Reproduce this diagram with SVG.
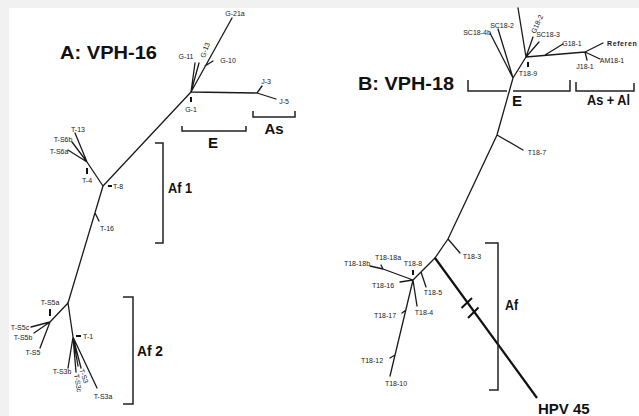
<svg xmlns="http://www.w3.org/2000/svg" width="639" height="416" viewBox="0 0 639 416">
<style>
.br{stroke:#1a1a1a;stroke-width:1.3;fill:none;stroke-linecap:round}
.th{stroke:#111;stroke-width:2.2;fill:none}
.mk{stroke:#111;stroke-width:2;fill:none}
.bk{stroke:#222;stroke-width:1.5;fill:none}
.lb{font-family:"Liberation Sans",Arial,sans-serif;font-size:7px;fill:#1a1a1a;text-anchor:middle}
.ls{font-family:"Liberation Sans",Arial,sans-serif;font-size:7px;fill:#1a1a1a}
.bl{font-family:"Liberation Sans",Arial,sans-serif;font-weight:bold;font-size:15px;fill:#111}
.ti{font-family:"Liberation Sans",Arial,sans-serif;font-weight:bold;font-size:19px;fill:#111}
</style>
<rect width="639" height="416" fill="#f1f1f1"/>
<rect x="9" y="8" width="630" height="408" fill="#ffffff"/>

<g id="titles">
<text class="ti" x="60" y="59" textLength="97" lengthAdjust="spacingAndGlyphs">A: VPH-16</text>
<text class="ti" x="358" y="90" textLength="96" lengthAdjust="spacingAndGlyphs">B: VPH-18</text>
</g>

<g id="connectors">
<!-- Tree A -->
<path class="br" d="M191,92 L232,18 M191,92 L195,63 M191,92 L199,63 M205,66 L213,61 M191,92 L257,93 M257,93 L262,86 M257,93 L276,99"/>
<path class="br" d="M191,92 L103,186 M103,186 L87,162 M87,162 L75,133 M87,162 L72,142 M87,162 L68,150 M103,186 L68,303 M95,213 L99,221"/>
<path class="br" d="M68,303 L50,322 M50,322 L31,327 M50,322 L34,333 M50,322 L40,348 M68,303 L73,337 M73,337 L68,368 M73,337 L76,372 M73,337 L78,366 M73,337 L81,368 M73,337 L97,388"/>
<path class="mk" d="M191,97 L191,102 M87,168 L87,174 M50,309 L50,316 M108,186 L112,186 M76,336 L81,336"/>
<!-- Tree B -->
<path class="br" d="M518,8 L526,57 M526,57 L533,37 M526,57 L539,42 M526,57 L585,52 M545,55 L563,44 M585,52 L603,43 M585,52 L600,59 M585,52 L587,60"/>
<path class="br" d="M526,57 L513,78 M513,78 L490,33 M513,78 L498,29 M513,78 L497,135 L448,239 M497,135 L523,150 M448,239 L460,253 M448,239 L435,258"/>
<path class="br" d="M435,258 L413,280 M421,272 L426,287 M413,280 L417,306 M413,280 L400,282 M413,280 L383,269 M383,269 L370,266 M383,269 L381,265 M413,280 L390,376 M406,310 L402,313 M395,355 L390,358"/>
<path class="th" d="M435,258 L537,398"/>
<path class="mk" d="M461.5,308 L472,298 M468,318 L478.5,307.5 M528,62 L528,67 M413,270 L413,275"/>
</g>

<g id="brackets">
<path class="bk" d="M182,126 L182,131 L246,131 L246,126"/>
<path class="bk" d="M253,111 L253,117 L295,117 L295,111"/>
<path class="bk" d="M155,143 L163,143 L163,243 L155,243"/>
<path class="bk" d="M123,297 L133,297 L133,404 L123,404"/>
<path class="bk" d="M468,80 L468,91 L507,91 M513,91 L570,91 L570,80"/>
<path class="bk" d="M576,82 L576,91 L634,91 L634,83"/>
<path class="bk" d="M485,243 L498,243 L498,390 L489,390"/>
</g>

<g id="clade-labels">
<g id="cl-E-A"><text class="bl" x="213" y="148" text-anchor="middle">E</text></g>
<g id="cl-As"><text class="bl" x="274" y="134" text-anchor="middle">As</text></g>
<g id="cl-Af1"><text class="bl" x="168" y="193" textLength="24" lengthAdjust="spacingAndGlyphs">Af 1</text></g>
<g id="cl-Af2"><text class="bl" x="137" y="356" textLength="26" lengthAdjust="spacingAndGlyphs">Af 2</text></g>
<g id="cl-E-B"><text class="bl" x="517" y="106" text-anchor="middle">E</text></g>
<g id="cl-AsAl"><text class="bl" x="587" y="105" textLength="43" lengthAdjust="spacingAndGlyphs">As + Al</text></g>
<g id="cl-Af"><text class="bl" x="505" y="310" textLength="13" lengthAdjust="spacingAndGlyphs">Af</text></g>
</g>

<g id="tree-a-labels">
<g id="G-21a"><text class="lb" x="235" y="16">G-21a</text></g>
<g id="G-11"><text class="lb" x="186" y="59">G-11</text></g>
<g id="G-13"><text class="lb" transform="translate(205,50) rotate(-70)" y="2.5">G-13</text></g>
<g id="G-10"><text class="lb" x="228" y="63">G-10</text></g>
<g id="J-3"><text class="lb" x="266" y="84">J-3</text></g>
<g id="J-5"><text class="lb" x="284" y="104">J-5</text></g>
<g id="G-1"><text class="lb" x="191" y="112">G-1</text></g>
<g id="T-13"><text class="lb" x="78" y="132">T-13</text></g>
<g id="T-S6b"><text class="lb" x="63" y="142">T-S6b</text></g>
<g id="T-S6a"><text class="lb" x="59" y="154">T-S6a</text></g>
<g id="T-4"><text class="lb" x="87" y="183">T-4</text></g>
<g id="T-8"><text class="ls" x="113" y="188.5">T-8</text></g>
<g id="T-16"><text class="lb" x="107" y="231">T-16</text></g>
<g id="T-S5a"><text class="lb" x="50" y="305">T-S5a</text></g>
<g id="T-S5c"><text class="lb" x="20" y="330">T-S5c</text></g>
<g id="T-S5b"><text class="lb" x="23" y="340">T-S5b</text></g>
<g id="T-S5"><text class="lb" x="33" y="355">T-S5</text></g>
<g id="T-1"><text class="ls" x="83" y="338.5">T-1</text></g>
<g id="T-S3b"><text class="lb" x="62" y="374">T-S3b</text></g>
<g id="T-S3c"><text class="lb" transform="translate(78,383) rotate(80)" y="2.5">T-S3c</text></g>
<g id="T-S3"><text class="lb" transform="translate(84,376) rotate(70)" y="2.5">T-S3</text></g>
<g id="T-S3a"><text class="lb" x="103" y="399">T-S3a</text></g>
</g>

<g id="tree-b-labels">
<g id="G18-2"><text class="lb" transform="translate(537,24) rotate(-65)" y="2.5">G18-2</text></g>
<g id="SC18-3"><text class="lb" x="548" y="37">SC18-3</text></g>
<g id="G18-1"><text class="lb" x="572" y="46">G18-1</text></g>
<g id="Reference"><text class="ls" x="607" y="45.5" font-weight="bold" letter-spacing="0.6">Referen</text></g>
<g id="AM18-1"><text class="lb" x="612" y="63">AM18-1</text></g>
<g id="J18-1"><text class="lb" x="585" y="69">J18-1</text></g>
<g id="T18-9"><text class="lb" x="528" y="76">T18-9</text></g>
<g id="SC18-4b"><text class="lb" x="477" y="35">SC18-4b</text></g>
<g id="SC18-2"><text class="lb" x="502" y="28">SC18-2</text></g>
<g id="T18-7"><text class="lb" x="537" y="155">T18-7</text></g>
<g id="T18-3"><text class="lb" x="472" y="259">T18-3</text></g>
<g id="T18-8"><text class="lb" x="413" y="266">T18-8</text></g>
<g id="T18-5"><text class="lb" x="433" y="295">T18-5</text></g>
<g id="T18-4"><text class="lb" x="424" y="315">T18-4</text></g>
<g id="T18-16"><text class="lb" x="383" y="288">T18-16</text></g>
<g id="T18-18b"><text class="lb" x="357" y="266">T18-18b</text></g>
<g id="T18-18a"><text class="lb" x="388" y="260">T18-18a</text></g>
<g id="T18-17"><text class="lb" x="385" y="318">T18-17</text></g>
<g id="T18-12"><text class="lb" x="372" y="363">T18-12</text></g>
<g id="T18-10"><text class="lb" x="396" y="386">T18-10</text></g>
<g id="HPV45"><text class="bl" x="538" y="414" font-size="10.5">HPV 45</text></g>
</g>
</svg>
